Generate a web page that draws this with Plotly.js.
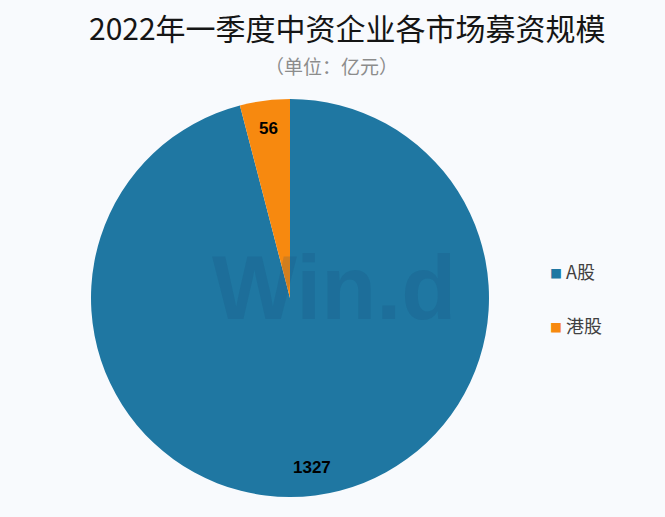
<!DOCTYPE html>
<html><head><meta charset="utf-8">
<script src="https://cdn.plot.ly/plotly-3.0.1.min.js"></script>
<style>html,body{margin:0;padding:0;background:#f8fafd;}#chart{width:665px;height:517px;}</style>
</head><body><div id="chart"></div>
<script>
const labels = ["A股", "港股"];
const values = [1327, 56];
const colors = ["#1f77a2", "#f7890f"];
const titleText = "2022年一季度中资企业各市场募资规模";
const subtitleText = "（单位：亿元）";

const W = 665, H = 517;
const cx = 290, cy = 298, R = 199;
const dom = {x: [(cx - R) / W, (cx + R) / W], y: [(H - cy - R) / H, (H - cy + R) / H]};
const px2x = p => p / W, px2y = p => 1 - p / H;

const total = values.reduce((a, b) => a + b, 0);
const annotations = [];
let cum = 0;
values.forEach((v, i) => {
  const mid = (cum + v / 2) / total * 2 * Math.PI;
  cum += v;
  const r = 0.86 * R;
  annotations.push({x: px2x(cx + r * Math.sin(mid)), y: px2y(cy - r * Math.cos(mid)), xref: "paper", yref: "paper",
    xanchor: "center", yanchor: "middle", text: String(v), showarrow: false,
    font: {family: "Liberation Sans, Arial, sans-serif", size: 17, color: "#000", weight: "bold"}});
});
// legend drawn from labels/colors
labels.forEach((lab, i) => {
  const ly = 271 + i * 54;
  annotations.push({x: px2x(548), y: px2y(ly), xref: "paper", yref: "paper", xanchor: "left", yanchor: "middle",
    text: '<span style="color:' + colors[i] + ';font-size:12px">■</span> ' + lab, showarrow: false,
    font: {family: "Noto Sans CJK SC, sans-serif", size: 18, color: "#404040"}});
});
annotations.push({x: px2x(347), y: px2y(27), xref: "paper", yref: "paper", xanchor: "center", yanchor: "middle",
  text: titleText, showarrow: false,
  font: {family: "Noto Sans CJK SC, sans-serif", size: 30, color: "#151515"}});
annotations.push({x: px2x(331), y: px2y(66), xref: "paper", yref: "paper", xanchor: "center", yanchor: "middle",
  text: subtitleText, showarrow: false,
  font: {family: "Noto Sans CJK SC, sans-serif", size: 19, color: "#8c8c8c"}});
annotations.push({x: px2x(334), y: px2y(288), xref: "paper", yref: "paper", xanchor: "center", yanchor: "middle",
  text: "Win.d", showarrow: false,
  font: {family: "Liberation Sans, Arial, sans-serif", size: 90, color: "rgba(20,70,110,0.16)", weight: "bold"}});

const data = [{
  type: "pie", labels: labels, values: values, marker: {colors: colors, line: {width: 0}},
  sort: false, direction: "clockwise", rotation: 0, textinfo: "none", hoverinfo: "label+value",
  domain: dom, showlegend: false
}];
const layout = {
  width: W, height: H, margin: {l: 0, r: 0, t: 0, b: 0},
  paper_bgcolor: "#f8fafd", plot_bgcolor: "#f8fafd", showlegend: false,
  annotations: annotations
};
Plotly.newPlot("chart", data, layout, {displayModeBar: false, staticPlot: true});
</script></body></html>
